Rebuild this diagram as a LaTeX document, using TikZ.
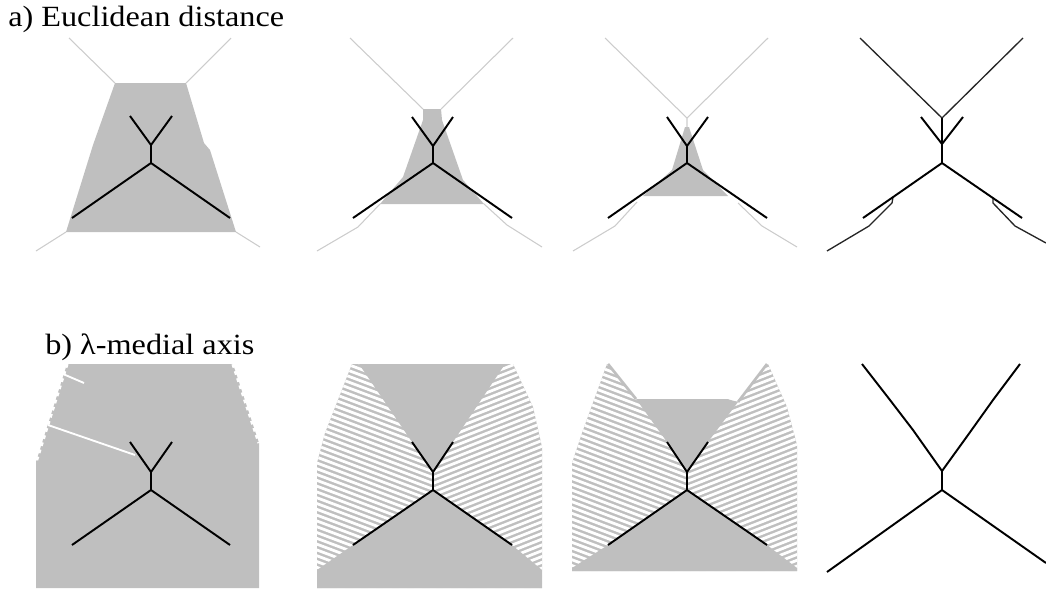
\documentclass[tikz,border=0pt]{standalone}
\usepackage{fontspec}
\setmainfont[FakeStretch=1.1]{Liberation Serif}
\begin{document}
\begin{tikzpicture}[
  x=0.75pt, y=-0.75pt,
  caption/.style={font=\fontsize{22}{24}\selectfont, anchor=base west, inner sep=0pt},
  region/.style={fill=regiongrey, draw=none},
  branch/.style={draw=branchgrey, line width=0.8pt, line join=round},
  skeleton/.style={draw=black, line width=1.45pt, line join=round},
  thin skeleton/.style={draw=black!85, line width=1pt, line join=round},
  stripe/.style={draw=white, line width=2.1pt},
  notch/.style={draw=white, line width=2.4pt, dash pattern=on 2.8pt off 2.8pt},
]
\definecolor{regiongrey}{gray}{0.75}
\definecolor{branchgrey}{gray}{0.8}
\useasboundingbox (0,0) rectangle (1046,590);

% captions
\node[caption] (capa) at (8,26) {a) Euclidean distance};
\node[caption] (capb) at (45,354) {b) λ-medial axis};

% a) first column
\fill[region] (115,83) -- (186,83) -- (204,143) -- (210,150) -- (236,232) -- (66,232) -- (93,145) -- cycle;
\draw[branch] (69,38) -- (115,83) (231,38) -- (186,83) (36,251) -- (66,232) (260,247) -- (236,232);
\draw[skeleton] (130,116) -- (151,145) -- (172,116) (151,145) -- (151,163) (72,218) -- (151,163) -- (230,218);

% a) second column
\fill[region] (423,109) -- (441,109) -- (442,120) -- (463,180) -- (484,204) -- (380,204) -- (403,177) -- (423,120) -- cycle;
\draw[branch] (350,38) -- (423,109) (513,38) -- (441,109) (317,251) -- (358,227) -- (380,204) (542,247) -- (507,225) -- (484,204);
\draw[skeleton] (412,117) -- (433,146) -- (453,117) (433,146) -- (433,163) (353,218) -- (433,163) -- (512,218);

% a) third column
\fill[region] (685,127) -- (689,127) -- (703,170) -- (728,196) -- (643,196) -- (672,170) -- cycle;
\draw[branch] (605,38) -- (687,118) -- (768,38) (687,118) -- (687,127) (573,251) -- (615,226) -- (637,202) (797,247) -- (762,226) -- (738,203);
\draw[skeleton] (667,117) -- (687,146) -- (708,117) (687,146) -- (687,163) (608,218) -- (687,163) -- (767,218);

% a) fourth column
\draw[thin skeleton] (860,38) -- (942,118) -- (1023,38) (827,251) -- (869,226) -- (892,203) -- (893,197) (1046,243) -- (1015,226) -- (993,203) -- (993,198);
\draw[skeleton] (921,117) -- (942,144) -- (963,117) (942,118) -- (942,163) (863,218) -- (942,163) -- (1022,218);

% b) first column
\fill[region] (67,364) -- (233,364) -- (259,443) -- (259,588) -- (36,588) -- (36,462) -- cycle;
\draw[notch] (67,364) -- (36,462) (233,364) -- (259,443);
\draw[draw=white, line width=1.4pt] (63,374) -- (84,383) (48,425) -- (135,455);
\draw[skeleton] (130,442) -- (151,472) -- (172,442) (151,472) -- (151,490) (72,545) -- (151,490) -- (230,545);

% b) second column
\begin{scope}
  \clip (352,364) -- (513,364) -- (533,407) -- (542,447) -- (542,588) -- (317,588) -- (317,463) -- (325,433) -- cycle;
  \fill[region] (300,350) rectangle (560,590);
  \foreach \k in {0,...,48} {
    \draw[stripe] (300,{300+5.8*\k}) -- (433,{300+5.8*\k+50});
    \draw[stripe] (560,{300+5.8*\k}) -- (433,{300+5.8*\k+50});
  }
  \fill[region] (359,364) -- (505,364) -- (453,442) -- (433,472) -- (412,442) -- cycle;
  \fill[region] (433,490) -- (353,545) -- (317,570) -- (317,588) -- (542,588) -- (542,570) -- (512,545) -- cycle;
\end{scope}
\draw[skeleton] (412,442) -- (433,472) -- (453,442) (433,472) -- (433,490) (353,545) -- (433,490) -- (512,545);

% b) third column
\begin{scope}
  \clip (607,364) -- (768,364) -- (787,407) -- (797,445) -- (797,571) -- (572,571) -- (572,463) -- (582,433) -- cycle;
  \fill[region] (560,350) rectangle (810,580);
  \foreach \k in {0,...,48} {
    \draw[stripe] (560,{300+5.8*\k}) -- (687,{300+5.8*\k+48});
    \draw[stripe] (810,{300+5.8*\k}) -- (687,{300+5.8*\k+48});
  }
  \fill[white] (607,364) -- (768,364) -- (738,402) -- (727,399) -- (636,399) -- cycle;
  \fill[region] (636,399) -- (727,399) -- (738,402) -- (708,442) -- (687,472) -- (667,442) -- cycle;
  \fill[region] (687,490) -- (608,545) -- (572,568) -- (572,571) -- (797,571) -- (797,568) -- (767,545) -- cycle;
\end{scope}
\draw[draw=regiongrey, line width=2pt] (608,364) -- (636,399) (767,364) -- (738,402);
\draw[skeleton] (667,442) -- (687,472) -- (708,442) (687,472) -- (687,490) (608,545) -- (687,490) -- (767,545);

% b) fourth column
\draw[skeleton] (862,364) -- (890,400) -- (913,430) -- (942,471) -- (968,435) -- (993,400) -- (1020,364) (942,471) -- (942,490) (827,572) -- (942,490) -- (1046,563);
\end{tikzpicture}
\end{document}
